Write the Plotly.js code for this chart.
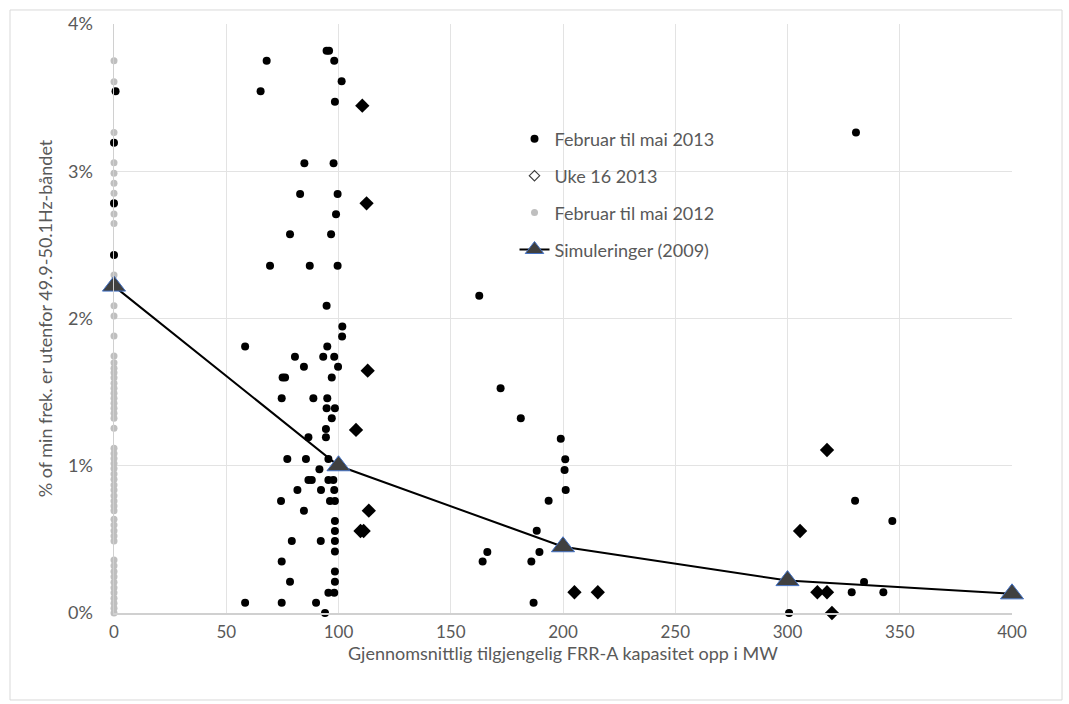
<!DOCTYPE html>
<html>
<head>
<meta charset="utf-8">
<script src="https://cdn.plot.ly/plotly-3.0.1.min.js"></script>
<style>
html,body{margin:0;padding:0;background:#fff;}
#chart{width:1069px;height:704px;}
</style>
</head>
<body>
<div id="chart"></div>
<script>
// Februar til mai 2013 (black dots)
const feb2013X = [0.7,0,0,0,
  94.7,95.8,68.0,98.1,101.4,65.3,98.4,84.8,97.8,82.9,99.6,98.9,78.4,96.7,69.5,87.2,99.6,94.7,101.7,101.6,95.0,58.4,80.6,93.2,98.1,84.6,99.8,75.1,76.2,97.0,74.7,88.8,95.0,94.7,98.4,97.0,94.4,94.4,86.6,77.2,85.5,95.5,91.5,95.5,97.7,86.6,88.1,81.7,92.2,98.1,96.2,98.4,74.4,84.6,98.4,98.4,79.2,92.1,98.4,98.4,74.7,98.4,78.4,98.4,95.5,98.1,58.4,74.7,90.0,94.0,
  162.7,172.2,181.2,199.0,201.0,200.7,201.2,193.6,188.3,166.3,164.2,189.5,185.9,186.9,
  330.5,330.1,346.7,334.1,328.6,342.7,300.7];
const feb2013Y = [3.543,3.194,2.782,2.431,
  3.819,3.819,3.751,3.751,3.611,3.543,3.472,3.054,3.054,2.845,2.845,2.708,2.572,2.572,2.359,2.359,2.359,2.087,1.946,1.877,1.809,1.809,1.741,1.741,1.741,1.673,1.673,1.600,1.600,1.600,1.458,1.458,1.458,1.390,1.390,1.322,1.250,1.193,1.193,1.046,1.046,1.046,0.976,0.903,0.903,0.903,0.903,0.835,0.835,0.835,0.761,0.761,0.761,0.695,0.625,0.557,0.489,0.489,0.489,0.417,0.349,0.281,0.213,0.213,0.138,0.138,0.070,0.070,0.070,0.000,
  2.155,1.526,1.322,1.184,1.044,0.971,0.835,0.763,0.559,0.414,0.349,0.414,0.349,0.070,
  3.264,0.763,0.625,0.211,0.141,0.141,0.000];

// Uke 16 2013 (diamonds)
const uke16X = [110.6,112.5,113.0,107.8,113.5,109.8,111.2,205.1,215.5,317.6,305.6,313.3,317.6,319.8];
const uke16Y = [3.445,2.782,1.646,1.243,0.695,0.557,0.557,0.141,0.141,1.107,0.557,0.141,0.141,0.000];

// Februar til mai 2012 (grey dots, all at 0 MW)
const feb2012Y = [3.751,3.608,3.264,3.058,2.986,2.918,2.850,2.775,2.710,2.646,2.295,2.221,2.087,2.017,
  1.881,1.745,1.700,1.662,1.632,1.598,1.560,1.526,1.492,1.458,1.424,1.390,1.356,1.322,1.254,
  1.118,1.084,1.050,1.016,0.982,0.944,0.908,0.869,0.835,0.797,0.761,0.727,0.695,0.636,0.598,0.559,0.523,0.489,
  0.360,0.321,0.281,0.247,0.208,0.172,0.138,0.100,0.066,0.032,0.000];
const feb2012X = feb2012Y.map(() => 0);

// Simuleringer (2009)
const simX = [0,100,200,300,400];
const simY = [2.22,1.00,0.45,0.22,0.13];

const xTicks = [0,50,100,150,200,250,300,350,400];
const yTicks = [0,1,2,3,4];
const xTitle = 'Gjennomsnittlig tilgjengelig FRR-A kapasitet opp i MW';
const yTitle = '% of min frek. er utenfor 49.9-50.1Hz-båndet';

const FONT = 'Lato, "Open Sans", sans-serif';
const GREY_TXT = '#595959';

const traces = [
  {x: feb2012X, y: feb2012Y, type:'scatter', mode:'markers', name:'Februar til mai 2012',
   legendrank:3, legendgroup:'c', cliponaxis:false,
   marker:{symbol:'circle', size:7, color:'#BFBFBF'}},
  {x: feb2013X, y: feb2013Y, type:'scatter', mode:'markers', name:'Februar til mai 2013',
   legendrank:1, legendgroup:'a', cliponaxis:false,
   marker:{symbol:'circle', size:8, color:'#000000'}},
  {x: uke16X, y: uke16Y, type:'scatter', mode:'markers', name:'Uke 16 2013',
   showlegend:false, legendgroup:'b', cliponaxis:false,
   marker:{symbol:'diamond', size:11, color:'#000000'}},
  {x: [null], y: [null], type:'scatter', mode:'markers', name:'Uke 16 2013',
   legendrank:2, legendgroup:'b',
   marker:{symbol:'diamond-open', size:8, color:'#404040', line:{width:1.2}}},
  {x: simX, y: simY, type:'scatter', mode:'lines+markers', name:'Simuleringer (2009)',
   legendrank:4, legendgroup:'d', cliponaxis:false,
   line:{color:'#000000', width:2},
   marker:{symbol:'triangle-up', size:20, color:'#404040', line:{color:'#4472C4', width:1}}}
];

const layout = {
  width:1069, height:704,
  margin:{l:114, r:57, t:24, b:91},
  paper_bgcolor:'#ffffff', plot_bgcolor:'#ffffff',
  font:{family:FONT, color:GREY_TXT, size:18},
  showlegend:true,
  legend:{x:0.446, y:0.836, xanchor:'left', yanchor:'top', bgcolor:'rgba(0,0,0,0)',
    font:{family:FONT, size:18, color:GREY_TXT}, tracegroupgap:10.5},
  xaxis:{range:[0,400], tickvals:xTicks, ticktext:xTicks.map(String),
    showgrid:true, gridcolor:'#E3E3E3', gridwidth:1, zeroline:false,
    showline:true, linecolor:'#D0D0D0', linewidth:1.5, ticks:'', ticklabelstandoff:3,
    tickfont:{family:FONT, size:17, color:GREY_TXT}},
  yaxis:{range:[0,4], tickvals:yTicks, ticktext:yTicks.map(v=>v+'%'),
    showgrid:true, gridcolor:'#E3E3E3', gridwidth:1, zeroline:false,
    showline:true, linecolor:'#D0D0D0', linewidth:1.5, ticks:'', ticklabelstandoff:16,
    tickfont:{family:FONT, size:18, color:GREY_TXT},
    title:{text:yTitle, standoff:10,
      font:{family:FONT, size:18, color:GREY_TXT}}},
  annotations:[{text:xTitle, xref:'paper', yref:'paper', x:0.5, y:-0.0679,
    xanchor:'center', yanchor:'middle', showarrow:false,
    font:{family:FONT, size:18, color:GREY_TXT}}],
  shapes:[{type:'rect', xref:'paper', yref:'paper',
    x0:-0.1158, x1:1.0557, y0:-0.1477, y1:1.0238,
    line:{color:'#D9D9D9', width:1}, fillcolor:'rgba(0,0,0,0)', layer:'below'}]
};

Plotly.newPlot('chart', traces, layout, {displayModeBar:false, staticPlot:true});
</script>
</body>
</html>
